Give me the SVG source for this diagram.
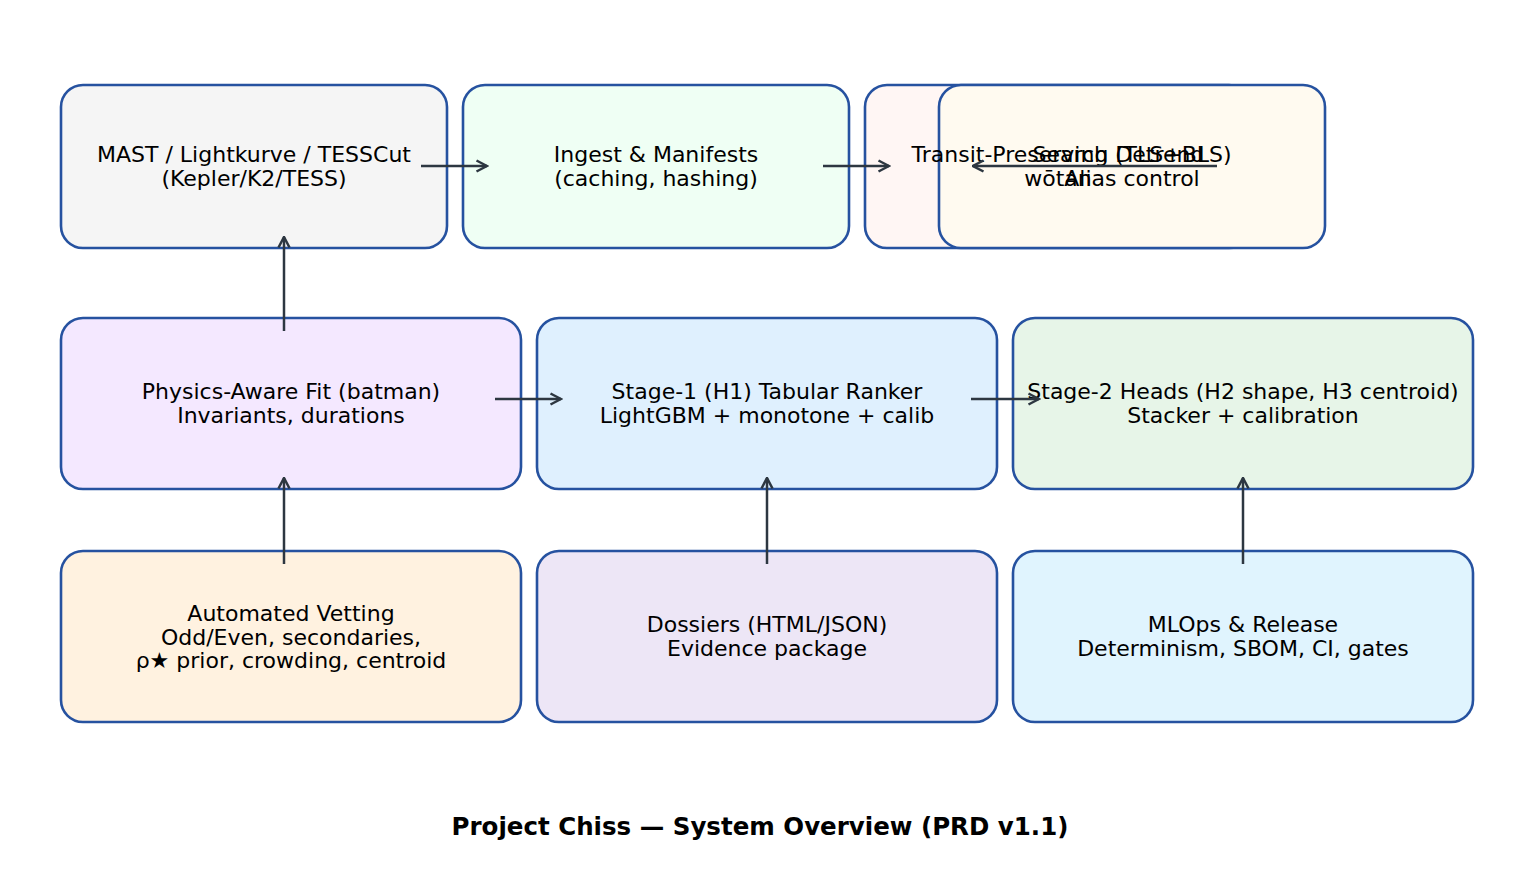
<svg xmlns="http://www.w3.org/2000/svg" width="1520" height="894" viewBox="0 0 1520 894">
<defs>
<style>
.box{stroke:#2652a0;stroke-width:2.6}
.t{font-family:"DejaVu Sans",sans-serif;font-size:22px;fill:#000;text-anchor:middle}
.title{font-family:"DejaVu Sans",sans-serif;font-size:24.5px;font-weight:bold;fill:#000;text-anchor:middle}
.c{stroke:#2d3741;stroke-width:2.5;fill:none;marker-end:url(#ah)}
</style>
<marker id="ah" viewBox="0 0 14 14" refX="12.5" refY="7" markerWidth="14" markerHeight="14" markerUnits="userSpaceOnUse" orient="auto">
<path d="M2,1.5 L12.5,7 L2,12.5" fill="none" stroke="#2d3741" stroke-width="2.5"/>
</marker>
</defs>
<rect width="1520" height="894" fill="#fff"/>
<g id="n1"><rect class="box" x="61" y="85" width="386" height="163" rx="22" fill="#f5f5f5"/></g>
<g id="n2"><rect class="box" x="463" y="85" width="386" height="163" rx="22" fill="#effff4"/></g>
<g id="n3"><rect class="box" x="865" y="85" width="386" height="163" rx="22" fill="#fff6f4"/></g>
<g id="n4"><rect class="box" x="939" y="85" width="386" height="163" rx="22" fill="#fffaf0"/></g>
<g id="n5"><rect class="box" x="61" y="318" width="460" height="171" rx="22" fill="#f4e8ff"/></g>
<g id="n6"><rect class="box" x="537" y="318" width="460" height="171" rx="22" fill="#dff0fe"/></g>
<g id="n7"><rect class="box" x="1013" y="318" width="460" height="171" rx="22" fill="#e7f5e8"/></g>
<g id="n8"><rect class="box" x="61" y="551" width="460" height="171" rx="22" fill="#fff2e0"/></g>
<g id="n9"><rect class="box" x="537" y="551" width="460" height="171" rx="22" fill="#ede6f6"/></g>
<g id="n10"><rect class="box" x="1013" y="551" width="460" height="171" rx="22" fill="#e0f4fe"/></g>
<g id="labels">
<g id="n1-label"><text class="t" x="254" y="162">MAST / Lightkurve / TESSCut</text><text class="t" x="254" y="186">(Kepler/K2/TESS)</text></g>
<g id="n2-label"><text class="t" x="656" y="162">Ingest &amp; Manifests</text><text class="t" x="656" y="186">(caching, hashing)</text></g>
<g id="n3-label"><text class="t" x="1058" y="162">Transit-Preserving Detrend</text><text class="t" x="1058" y="186">wōtan</text></g>
<g id="n4-label"><text class="t" x="1132" y="162">Search (TLS+BLS)</text><text class="t" x="1132" y="186">Alias control</text></g>
<g id="n5-label"><text class="t" x="291" y="399">Physics-Aware Fit (batman)</text><text class="t" x="291" y="423">Invariants, durations</text></g>
<g id="n6-label"><text class="t" x="767" y="399">Stage-1 (H1) Tabular Ranker</text><text class="t" x="767" y="423">LightGBM + monotone + calib</text></g>
<g id="n7-label"><text class="t" x="1243" y="399">Stage-2 Heads (H2 shape, H3 centroid)</text><text class="t" x="1243" y="423">Stacker + calibration</text></g>
<g id="n8-label"><text class="t" x="291" y="621">Automated Vetting</text><text class="t" x="291" y="645">Odd/Even, secondaries,</text><text class="t" x="291" y="668">ρ★ prior, crowding, centroid</text></g>
<g id="n9-label"><text class="t" x="767" y="632">Dossiers (HTML/JSON)</text><text class="t" x="767" y="656">Evidence package</text></g>
<g id="n10-label"><text class="t" x="1243" y="632">MLOps &amp; Release</text><text class="t" x="1243" y="656">Determinism, SBOM, CI, gates</text></g>
</g>
<g id="connectors">
<line class="c" x1="421" y1="166" x2="487" y2="166"/>
<line class="c" x1="823" y1="166" x2="889" y2="166"/>
<line class="c" x1="1217" y1="166" x2="973" y2="166"/>
<line class="c" x1="495" y1="399" x2="561" y2="399"/>
<line class="c" x1="971" y1="399" x2="1039" y2="399"/>
<line class="c" x1="284" y1="331" x2="284" y2="237"/>
<line class="c" x1="284" y1="564" x2="284" y2="478"/>
<line class="c" x1="767" y1="564" x2="767" y2="478"/>
<line class="c" x1="1243" y1="564" x2="1243" y2="478"/>
</g>
<text class="title" x="760" y="835">Project Chiss — System Overview (PRD v1.1)</text>
</svg>
